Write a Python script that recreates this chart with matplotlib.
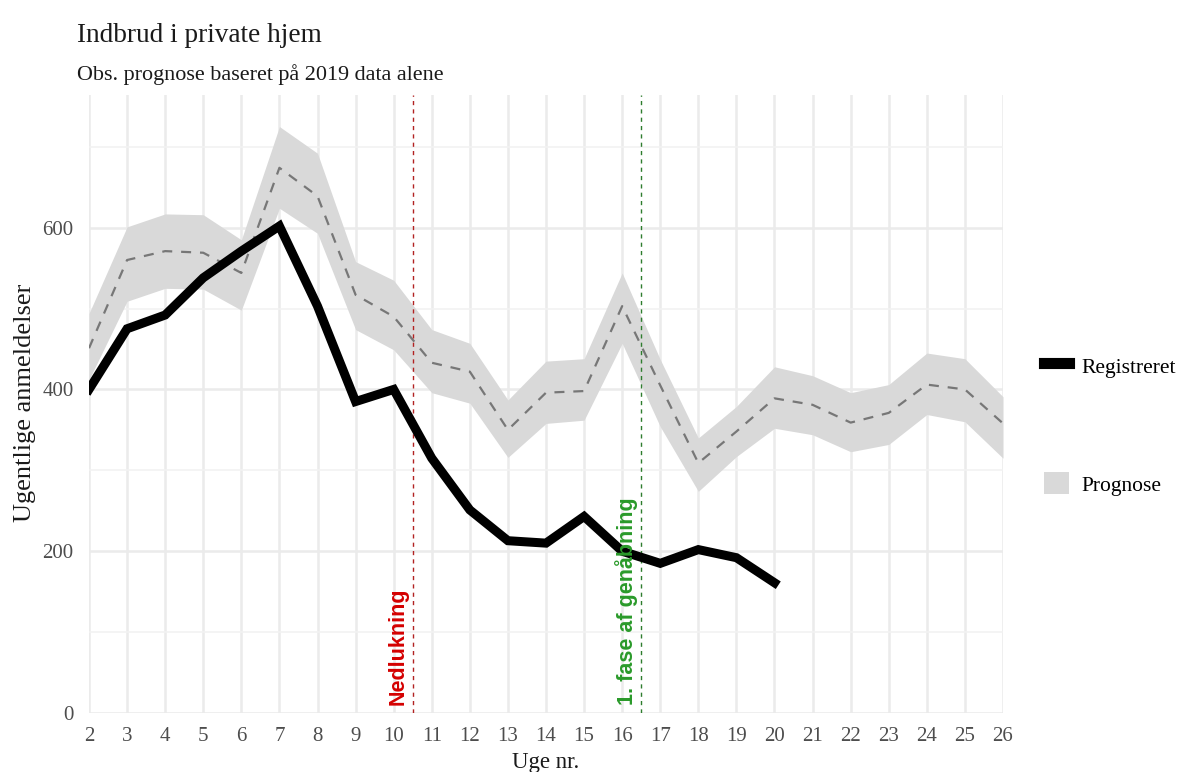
import matplotlib
matplotlib.use("Agg")
import matplotlib.pyplot as plt
from matplotlib.lines import Line2D
from matplotlib.patches import Patch
import numpy as np

plt.rcParams['font.family'] = ['Liberation Serif', 'DejaVu Serif']

# data
uger = list(range(2, 27))
reg_uger = list(range(2, 21))
registreret = [400, 475, 492, 538, 571, 602, 503, 385, 400, 315, 251, 213, 210, 243, 200, 185, 202, 192, 161]
prognose = [451, 560, 571, 569, 544, 674, 639, 517, 490, 433, 422, 350, 396, 398, 503, 405, 309, 348, 389,
            381, 359, 371, 406, 400, 358]
prognose_hoej = [494, 601, 617, 616, 585, 725, 692, 558, 535, 474, 457, 387, 435, 438, 544, 437, 340, 379, 428,
                 417, 396, 406, 445, 438, 391]
prognose_lav = [412, 509, 525, 524, 498, 624, 593, 474, 449, 396, 383, 316, 358, 362, 457, 354, 274, 317, 352,
                344, 323, 332, 369, 360, 315]

nedlukning_uge = 10.5
genaabning_uge = 16.5

fig = plt.figure(figsize=(11.8, 7.72), dpi=100)
ax = fig.add_axes([89 / 1180, 1 - 713 / 772, (1003 - 89) / 1180, (713 - 95) / 772])

ax.fill_between(uger, prognose_lav, prognose_hoej, color='#D9D9D9', lw=0, zorder=2)
ax.plot(uger, prognose, color='#777777', lw=1.6, dashes=(4.5, 4), zorder=3)
ax.plot(reg_uger, registreret, color='black', lw=6.5, solid_joinstyle='miter', zorder=4)

ax.axvline(nedlukning_uge, color='#B22222', lw=1, dashes=(3, 3), zorder=3)
ax.axvline(genaabning_uge, color='#2E7D2E', lw=1, dashes=(3, 3), zorder=3)
ax.text(nedlukning_uge - 0.38, 10, 'Nedlukning', rotation=90, ha='center', va='bottom',
        color='#D40000', fontsize=15.5, fontweight='bold', family='Liberation Sans', zorder=5)
ax.text(genaabning_uge - 0.38, 10, '1. fase af genåbning', rotation=90, ha='center', va='bottom',
        color='#2A9A2A', fontsize=15.5, fontweight='bold', family='Liberation Sans', zorder=5)

ax.set_xlim(2, 26)
ax.set_ylim(0, 764)
ax.set_xticks(uger)
ax.set_yticks([0, 200, 400, 600])
ax.set_yticks([100, 300, 500, 700], minor=True)
ax.grid(which='major', color='#EBEBEB', lw=1.8, zorder=0)
ax.grid(which='minor', axis='y', color='#F2F2F2', lw=1.2, zorder=0)
ax.set_axisbelow(True)
for s in ax.spines.values():
    s.set_visible(False)
ax.tick_params(which='both', length=0, labelsize=15, labelcolor='#4D4D4D')
ax.tick_params(axis='x', pad=10)
ax.tick_params(axis='y', pad=11)

fig.text(77 / 1180, 1 - 42 / 772, 'Indbrud i private hjem', fontsize=19.6, va='baseline', color='#1A1A1A')
fig.text(77 / 1180, 1 - 80 / 772, 'Obs. prognose baseret på 2019 data alene', fontsize=15.9,
         va='baseline', color='#1A1A1A')
fig.text(25 / 1180, 1 - 403 / 772, 'Ugentlige anmeldelser', rotation=90, ha='center', va='center',
         fontsize=19, color='#1A1A1A')
fig.text(546 / 1180, 1 - 768 / 772, 'Uge nr.', ha='center', va='baseline', fontsize=16.5, color='#1A1A1A')

handles = [Line2D([0], [0], color='black', lw=8), Patch(facecolor='#D9D9D9', edgecolor='none')]
fig.legend(handles, ['Registreret', 'Prognose'], loc='center left', bbox_to_anchor=(1044 / 1180, 1 - 425 / 772),
           frameon=False, fontsize=15.5, handlelength=1.15, handleheight=1.2, labelspacing=4.4,
           handletextpad=0.6, borderpad=0, borderaxespad=0)

fig.savefig('out.png', dpi=100)
